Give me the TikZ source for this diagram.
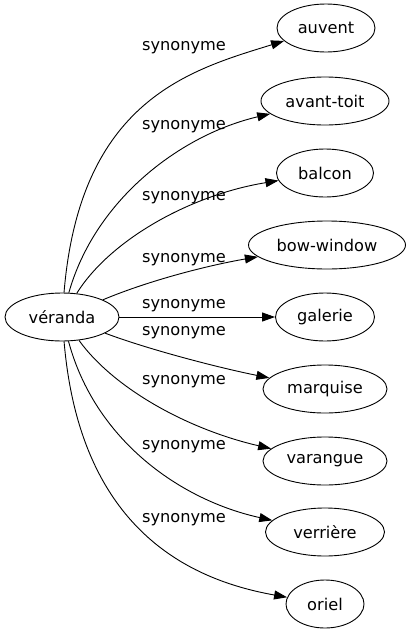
\documentclass[tikz,border=0pt]{standalone}
\usepackage{fontspec}
\setmainfont{DejaVu Sans}
\usetikzlibrary{shapes.geometric,arrows.meta}
\tikzset{
  wnode/.style={draw, ellipse, inner sep=0pt, line width=0.9pt, minimum height=48pt, font=\fontsize{16.2}{19}\selectfont},
  lbl/.style={inner sep=0pt, font=\fontsize{16.2}{19}\selectfont},
  edge/.style={draw, line width=0.9pt, -{Triangle[length=13pt,width=9pt]}}
}
\begin{document}
\begin{tikzpicture}[x=1pt,y=-1pt]
\useasboundingbox (0,0) rectangle (413,635);
\node[wnode, minimum width=114pt] (v) at (62,317) {véranda};
\node[wnode, minimum width=98pt] (n1) at (326,28) {auvent};
\node[wnode, minimum width=128pt] (n2) at (325,101) {avant-toit};
\node[wnode, minimum width=97pt] (n3) at (325,173) {balcon};
\node[wnode, minimum width=157pt] (n4) at (327,245) {bow-window};
\node[wnode, minimum width=99pt] (n5) at (325,317) {galerie};
\node[wnode, minimum width=124pt] (n6) at (325,389) {marquise};
\node[wnode, minimum width=124pt] (n7) at (325,461) {varangue};
\node[wnode, minimum width=119pt] (n8) at (325,532) {verrière};
\node[wnode, minimum width=78pt] (n9) at (325,604) {oriel};

\draw[edge] (v) .. controls (80,100) and (190,70) .. (n1);
\draw[edge] (v) .. controls (95,200) and (180,135) .. (n2);
\draw[edge] (v) .. controls (110,240) and (190,195) .. (n3);
\draw[edge] (v) .. controls (150,280) and (210,265) .. (n4);
\draw[edge] (v) -- (n5);
\draw[edge] (v) .. controls (150,350) and (220,368) .. (n6);
\draw[edge] (v) .. controls (115,390) and (190,430) .. (n7);
\draw[edge] (v) .. controls (95,440) and (180,500) .. (n8);
\draw[edge] (v) .. controls (80,530) and (190,580) .. (n9);

\node[lbl] (l1) at (184,47.6) {synonyme};
\node[lbl] (l2) at (184,127) {synonyme};
\node[lbl] (l3) at (184,198) {synonyme};
\node[lbl] (l4) at (184,260) {synonyme};
\node[lbl] (l5) at (184,306) {synonyme};
\node[lbl] (l6) at (184,333) {synonyme};
\node[lbl] (l7) at (184,382) {synonyme};
\node[lbl] (l8) at (184,447) {synonyme};
\node[lbl] (l9) at (184,520) {synonyme};
\end{tikzpicture}
\end{document}
